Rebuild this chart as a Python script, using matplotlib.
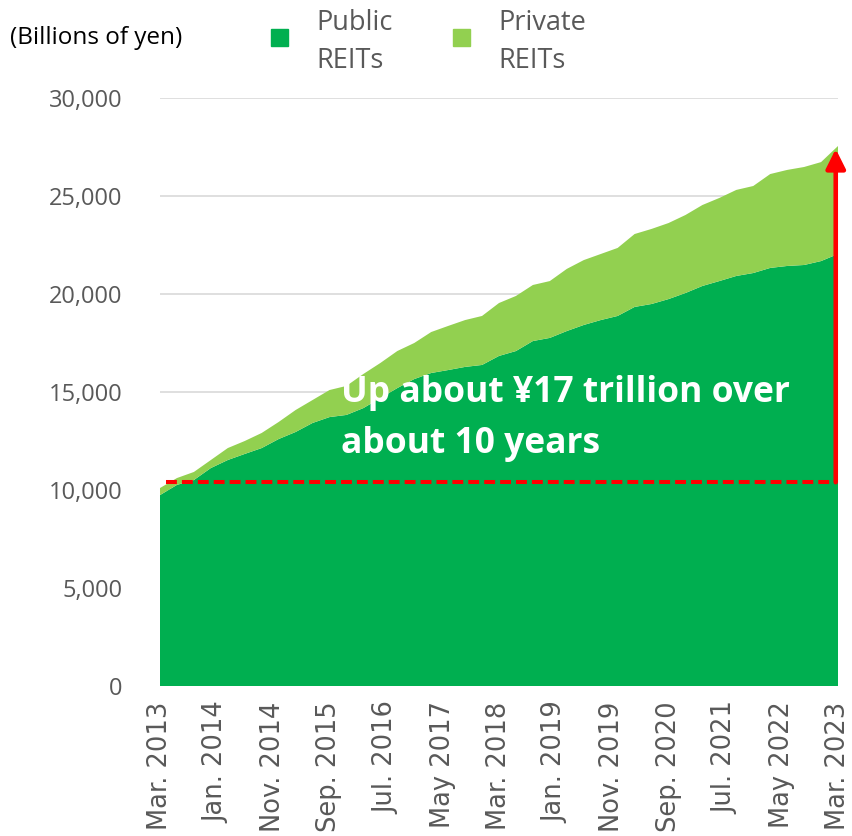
import numpy as np
import pandas as pd
import matplotlib
matplotlib.use("Agg")
import matplotlib.pyplot as plt
from matplotlib.patches import Rectangle

# Quarterly REIT asset totals (billions of yen), Mar. 2013 - Mar. 2023
quarters = pd.date_range("2013-03-01", "2023-03-01", freq="3MS")
public_reits = [9740, 10260, 10510, 11120, 11530, 11840, 12140, 12600, 12960, 13420,
                13720, 13830, 14180, 14690, 15200, 15660, 15970, 16120, 16280, 16380,
                16840, 17090, 17600, 17760, 18110, 18420, 18670, 18880, 19340, 19490,
                19740, 20050, 20410, 20660, 20920, 21070, 21330, 21430, 21480, 21680,
                22040]
private_reits = [360, 350, 410, 410, 610, 660, 770, 870, 1120, 1170,
                 1380, 1480, 1740, 1790, 1890, 1840, 2090, 2250, 2390, 2500,
                 2700, 2810, 2860, 2900, 3170, 3310, 3370, 3470, 3720, 3830,
                 3880, 3980, 4130, 4240, 4390, 4440, 4790, 4900, 5000, 5050,
                 5510]
series_names = ["Public\nREITs", "Private\nREITs"]
tick_labels = ["Mar. 2013", "Jan. 2014", "Nov. 2014", "Sep. 2015", "Jul. 2016",
               "May 2017", "Mar. 2018", "Jan. 2019", "Nov. 2019", "Sep. 2020",
               "Jul. 2021", "May 2022", "Mar. 2023"]
y_ticks = [0, 5000, 10000, 15000, 20000, 25000, 30000]
baseline_level = 10400
peak_level = 27400
annotation = "Up about ¥17 trillion over\nabout 10 years"

start = quarters[0]
months = np.array([(d.year - start.year) * 12 + (d.month - start.month) for d in quarters])
tick_pos = np.arange(0, 121, 10)

c_public = "#00AF50"
c_private = "#92D050"
grey = "#595959"
sans = ["Open Sans", "DejaVu Sans"]

W, H = 852, 836
fig = plt.figure(figsize=(W / 100, H / 100), dpi=100)
ax = fig.add_axes([160 / W, 1 - 686 / H, (838 - 160) / W, (686 - 98) / H])

ax.stackplot(months, public_reits, private_reits,
             colors=[c_public, c_private], linewidth=0, zorder=2)

ax.set_xlim(0, 120)
ax.set_ylim(0, 30000)
ax.set_yticks(y_ticks)
ax.set_yticklabels([f"{v:,}" for v in y_ticks], fontsize=17, color=grey, family=sans)
ax.set_xticks(tick_pos)
ax.set_xticklabels(tick_labels, rotation=90, fontsize=18.5, color=grey,
                   family=["DejaVu Sans"], ha="center", va="top")
ax.tick_params(axis="both", length=0)
ax.tick_params(axis="x", pad=11)
ax.tick_params(axis="y", pad=27)
for s in ax.spines.values():
    s.set_visible(False)
ax.grid(axis="y", color="#d9d9d9", linewidth=1.2, zorder=1)
ax.set_axisbelow(True)

# growth annotation: dashed baseline and arrow to latest total
arrow_x = 119.6
ax.plot([1.1, arrow_x], [baseline_level, baseline_level], color="#FF0000",
        lw=2.9, linestyle=(0, (2.7, 1.25)), zorder=4)
ax.annotate("", xy=(arrow_x, peak_level), xytext=(arrow_x, baseline_level),
            arrowprops=dict(arrowstyle="-|>,head_length=0.9,head_width=0.45",
                            mutation_scale=13, color="#FF0000", lw=3.3,
                            shrinkA=0, shrinkB=0), zorder=5)
fig.text(341 / W, 1 - 375 / H, annotation, color="white", fontsize=25.5,
         fontweight="bold", family=sans, va="top", ha="left", linespacing=1.55)

# header: unit label and legend
fig.text(10 / W, 1 - 38 / H, "(Billions of yen)", fontsize=17.5, color="black",
         family=sans, va="center", ha="left")
legend_items = [(271, c_public, series_names[0]), (453, c_private, series_names[1])]
for x0, col, name in legend_items:
    fig.patches.append(Rectangle((x0 / W, 1 - 46 / H), 17 / W, 17 / H,
                                 transform=fig.transFigure, color=col))
    fig.text((x0 + 45) / W, 1 - 9 / H, name, fontsize=19.5, color=grey,
             family=sans, va="top", ha="left", linespacing=1.5)

fig.savefig("out.png", dpi=100)
